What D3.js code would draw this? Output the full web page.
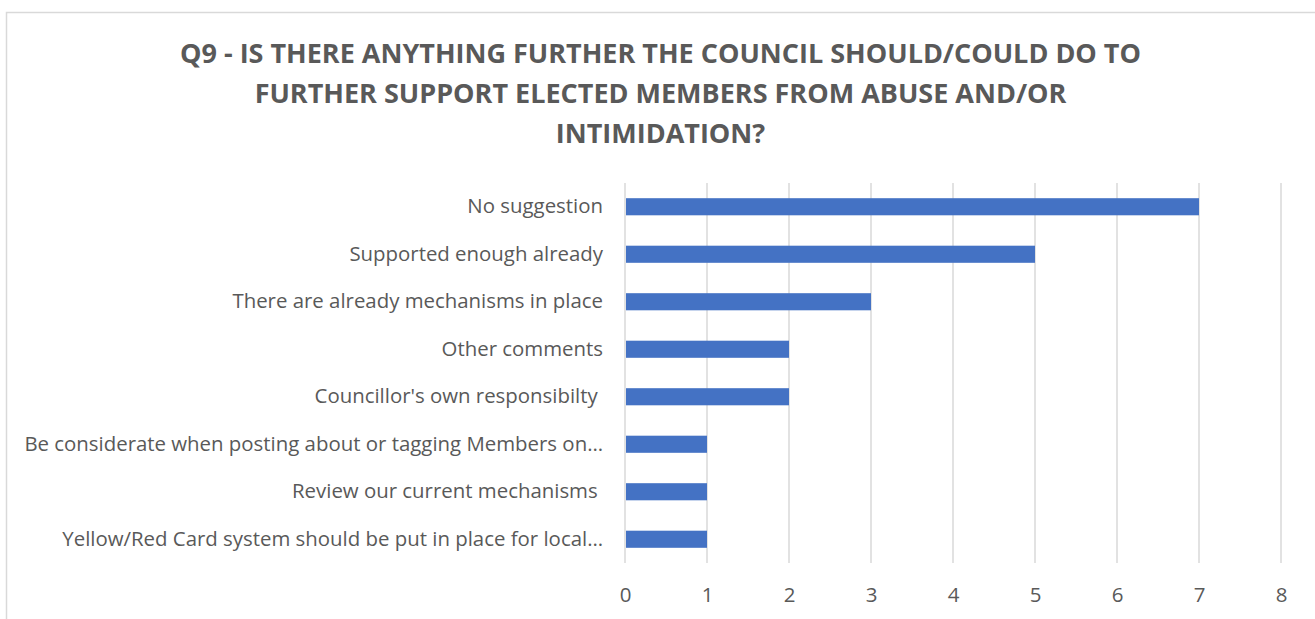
<!DOCTYPE html>
<html>
<head>
<meta charset="utf-8">
<script src="https://cdn.jsdelivr.net/npm/d3@7"></script>
<style>
  html, body { margin: 0; padding: 0; background: #ffffff; }
  svg text { font-family: "Open Sans", "Noto Sans", sans-serif; fill: #595959; white-space: pre; }
</style>
</head>
<body>
<svg id="chart" width="1315" height="619"></svg>
<script>
// Survey responses, Q9
const categories = [
  "No suggestion",
  "Supported enough already",
  "There are already mechanisms in place",
  "Other comments",
  "Councillor's own responsibilty ",
  "Be considerate when posting about or tagging Members on\u2026",
  "Review our current mechanisms ",
  "Yellow/Red Card system should be put in place for local\u2026"
];
const counts = [7, 5, 3, 2, 2, 1, 1, 1];
const tickValues = [0, 1, 2, 3, 4, 5, 6, 7, 8];
const titleLines = [
  "Q9 - IS THERE ANYTHING FURTHER THE COUNCIL SHOULD/COULD DO TO",
  "FURTHER SUPPORT ELECTED MEMBERS FROM ABUSE AND/OR",
  "INTIMIDATION?"
];

const svg = d3.select("#chart");

// chart frame
svg.append("rect")
  .attr("x", 6.5).attr("y", 12.5)
  .attr("width", 1320).attr("height", 640)
  .attr("fill", "#ffffff")
  .attr("stroke", "#d9d9d9")
  .attr("stroke-width", 1.5);

// title
svg.append("g").selectAll("text")
  .data(titleLines)
  .join("text")
  .attr("x", 660.5)
  .attr("y", (d, i) => 63 + i * 40)
  .attr("text-anchor", "middle")
  .attr("font-weight", "bold")
  .attr("font-size", 27)
  .text(d => d);

const plot = { left: 625, right: 1281, top: 183, bottom: 563 };

const x = d3.scaleLinear().domain([0, 8]).range([plot.left, plot.right]);
const y = d3.scaleBand().domain(categories).range([plot.top, plot.bottom]).paddingInner(0.64).paddingOuter(0.32);

// vertical gridlines
svg.append("g").selectAll("line")
  .data(tickValues)
  .join("line")
  .attr("x1", d => x(d)).attr("x2", d => x(d))
  .attr("y1", plot.top).attr("y2", plot.bottom)
  .attr("stroke", "#d9d9d9")
  .attr("stroke-width", 1.5);

// bars
svg.append("g").selectAll("rect")
  .data(categories)
  .join("rect")
  .attr("x", x(0) + 1)
  .attr("y", d => y(d))
  .attr("width", (d, i) => x(counts[i]) - x(0) - 1)
  .attr("height", y.bandwidth())
  .attr("fill", "#4472C4");

// x axis labels
const xAxis = d3.axisBottom(x).tickValues(tickValues).tickSize(0).tickPadding(0).tickFormat(d3.format("d"));
const gx = svg.append("g").attr("transform", `translate(0,${plot.bottom + 24})`).call(xAxis);
gx.select(".domain").remove();
gx.selectAll("text").attr("font-size", 20.5).attr("fill", "#595959").style("font-family", "\"Open Sans\", sans-serif");

// category labels
const yAxis = d3.axisLeft(y).tickSize(0).tickPadding(0);
const gy = svg.append("g").attr("transform", `translate(${plot.left - 22},0)`).call(yAxis);
gy.select(".domain").remove();
gy.selectAll("text").attr("font-size", 20.4).attr("fill", "#595959").style("font-family", "\"Open Sans\", sans-serif");
</script>
</body>
</html>
